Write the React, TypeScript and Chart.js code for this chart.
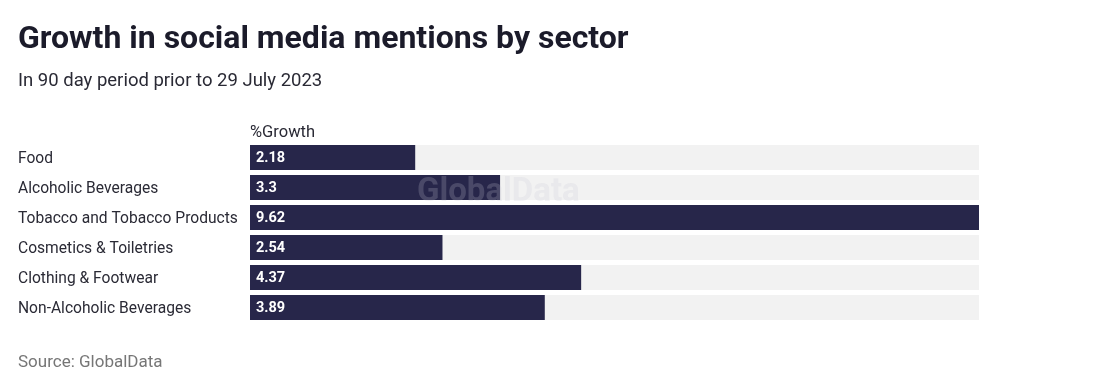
import React, { useEffect, useRef } from "react";
import { Chart, registerables } from "chart.js";

Chart.register(...registerables);

const TITLE = "Growth in social media mentions by sector";
const SUBTITLE = "In 90 day period prior to 29 July 2023";
const SOURCE = "Source: GlobalData";
const COLUMN_HEADER = "%Growth";
const WATERMARK = "GlobalData";

const categories = [
  "Food",
  "Alcoholic Beverages",
  "Tobacco and Tobacco Products",
  "Cosmetics & Toiletries",
  "Clothing & Footwear",
  "Non-Alcoholic Beverages",
];
const growth = [2.18, 3.3, 9.62, 2.54, 4.37, 3.89];
const valueLabels = ["2.18", "3.3", "9.62", "2.54", "4.37", "3.89"];

const AXIS_MAX = 9.62;
const track = categories.map(() => AXIS_MAX);

const FONT = "Roboto, 'Noto Sans', sans-serif";

export default function App() {
  const ref = useRef<HTMLCanvasElement | null>(null);

  useEffect(() => {
    document.body.style.margin = "0";
    const canvas = ref.current!;
    const textPlugin = {
      id: "texts",
      afterDatasetsDraw(chart: any) {
        const ctx = chart.ctx as CanvasRenderingContext2D;
        const meta = chart.getDatasetMeta(1);
        ctx.save();
        ctx.font = `bold 14.5px ${FONT}`;
        ctx.fillStyle = "#ffffff";
        ctx.textBaseline = "middle";
        ctx.textAlign = "left";
        meta.data.forEach((bar: any, i: number) => {
          ctx.fillText(valueLabels[i], bar.base + 6, bar.y + 1);
        });
        ctx.font = `bold 33px ${FONT}`;
        ctx.fillStyle = "rgba(200,200,212,0.22)";
        ctx.textAlign = "left";
        ctx.textBaseline = "middle";
        ctx.fillText(WATERMARK, 417, 193);
        ctx.restore();
      },
      afterDraw(chart: any) {
        const ctx = chart.ctx as CanvasRenderingContext2D;
        const area = chart.chartArea;
        ctx.save();
        ctx.textAlign = "left";
        ctx.textBaseline = "alphabetic";
        ctx.fillStyle = "#1b1b2a";
        ctx.font = `bold 32px ${FONT}`;
        ctx.fillText(TITLE, 18, 48);
        ctx.fillStyle = "#2a2a35";
        ctx.font = `18.5px ${FONT}`;
        ctx.fillText(SUBTITLE, 18, 86);
        ctx.font = `16.5px ${FONT}`;
        ctx.fillStyle = "#2a2a35";
        ctx.fillText(COLUMN_HEADER, area.left, 137);
        ctx.fillStyle = "#767676";
        ctx.font = `17px ${FONT}`;
        ctx.fillText(SOURCE, 18, 367);
        ctx.restore();
      },
    };

    const chart = new Chart(canvas, {
      type: "bar",
      data: {
        labels: categories,
        datasets: [
          {
            label: "track",
            data: track,
            backgroundColor: "#f2f2f2",
            grouped: false,
            order: 2,
            categoryPercentage: 1,
            barPercentage: 0.83,
          },
          {
            label: "%Growth",
            data: growth,
            backgroundColor: "#27264a",
            grouped: false,
            order: 1,
            categoryPercentage: 1,
            barPercentage: 0.83,
          },
        ],
      },
      options: {
        indexAxis: "y",
        animation: false,
        responsive: false,
        maintainAspectRatio: false,
        layout: { padding: { left: 18, right: 116, top: 142.5, bottom: 59.5 } },
        plugins: {
          legend: { display: false },
          tooltip: { enabled: false },
          title: { display: false },
        },
        scales: {
          x: { display: false, min: 0, max: AXIS_MAX },
          y: {
            grid: { display: false },
            border: { display: false },
            afterFit(scale: any) {
              scale.width = 232;
            },
            ticks: {
              crossAlign: "far",
              padding: 0,
              labelOffset: 1.5,
              color: "#2a2a35",
              font: { family: FONT, size: 15.6 },
            },
          },
        },
      },
      plugins: [textPlugin],
    });
    return () => chart.destroy();
  }, []);

  return <canvas ref={ref} width={1095} height={382} style={{ display: "block" }} />;
}
